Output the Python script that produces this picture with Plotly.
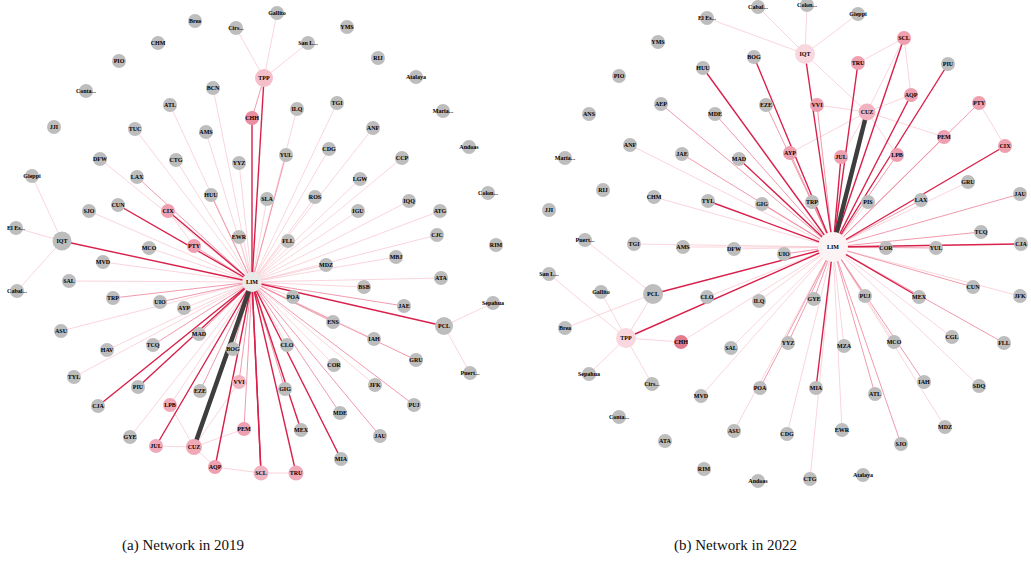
import plotly.graph_objects as go

# ---------------- 2019 network ----------------
NODES_2019 = ["LIM", "Brea", "Cirs...", "CHM", "PIO", "Conta...", "JJI", "TUC", "ATL", "BCN", "AMS",
              "TPP", "CHH", "DFW", "CTG", "YYZ", "Gieppi", "LAX", "HUU", "CUN", "CIX", "SJO", "El Es...",
              "IQT", "EWR", "MCO", "PTY", "Gallito", "YMS", "San L...", "RIJ", "Atalaya", "ILQ", "TGI",
              "Maria...", "ANF", "YUL", "CDG", "CCP", "Andoas", "LGW", "SLA", "ROS", "Colon...", "IQQ",
              "IGU", "ATG", "FLL", "CJC", "RIM", "Cabal...", "MVD", "SAL", "TRP", "UIO", "AYP", "ASU",
              "MAD", "HAV", "TCQ", "BOG", "TYL", "VVI", "PIU", "EZE", "CJA", "LPB", "PEM", "GYE", "JUL",
              "CUZ", "AQP", "SCL", "MBJ", "MDZ", "ATA", "BSB", "POA", "JAE", "Sepahua", "ENS", "PCL",
              "IAH", "CLO", "GRU", "COR", "Puert...", "JFK", "GIG", "PUJ", "MDE", "MEX", "JAU", "MIA", "TRU"]
X_2019 = [252, 195, 236, 158, 119, 86, 54, 135, 170, 213, 206,
          264, 252, 100, 176, 239, 32, 137, 211, 118, 168, 89, 16,
          62, 239, 149, 194, 277, 347, 308, 378, 416, 297, 337,
          443, 373, 286, 329, 402, 469, 360, 267, 315, 488, 409,
          358, 440, 288, 437, 496, 17, 103, 69, 113, 160, 184, 61,
          199, 107, 153, 233, 74, 239, 138, 200, 98, 170, 244, 130, 156,
          194, 215, 261, 396, 326, 441, 364, 293, 404, 493, 333, 444,
          374, 287, 416, 334, 470, 375, 285, 414, 340, 301, 380, 341, 296]
Y_2019 = [282, 21, 28, 43, 61, 91, 127, 129, 105, 88, 132,
          78, 118, 159, 160, 163, 176, 177, 195, 205, 211, 211, 228,
          241, 237, 248, 246, 13, 27, 43, 58, 77, 109, 103,
          111, 128, 155, 149, 158, 147, 179, 199, 197, 193, 201,
          211, 211, 241, 235, 245, 291, 262, 281, 298, 302, 308, 331,
          334, 350, 345, 349, 377, 382, 387, 391, 406, 405, 429, 437, 446,
          447, 467, 473, 257, 265, 278, 287, 297, 306, 303, 322, 326,
          339, 345, 360, 365, 373, 385, 389, 405, 413, 430, 436, 459, 473]

# edges: source, target, weight class (1 light .. 3 strong, 4 heaviest)
EDGE_SRC_2019 = ["LIM"] * 75 + ["TPP", "TPP", "TPP", "TPP", "IQT", "IQT", "IQT", "PCL", "PCL",
                                "CUZ", "CUZ", "CUZ", "CUZ", "CUZ", "AQP", "SCL", "CIX"]
EDGE_DST_2019 = ["IQT", "TPP", "PCL", "CUZ", "AQP", "SCL", "TRU", "PIU", "CJA", "CIX",
                 "CUN", "JUL", "EZE", "BOG", "MAD", "TCQ", "ENS", "GRU", "MEX", "MIA",
                 "JAU", "MDE", "PUJ", "JFK", "COR", "GIG", "CLO", "POA", "BSB", "JAE",
                 "ATA", "MBJ", "MDZ", "CJC", "ATG", "IQQ", "CCP", "IGU", "LGW", "ROS",
                 "FLL", "CDG", "ANF", "TGI", "YUL", "ILQ", "SLA", "CHH", "YYZ", "EWR",
                 "HUU", "AMS", "BCN", "ATL", "CTG", "TUC", "LAX", "DFW", "SJO", "MCO",
                 "PTY", "MVD", "SAL", "TRP", "UIO", "AYP", "ASU", "HAV", "TYL", "GYE",
                 "LPB", "PEM", "VVI", "IAH", "SCL",
                 "Cirs...", "Gallito", "San L...", "CHH", "El Es...", "Gieppi", "Cabal...",
                 "Sepahua", "Puert...", "LPB", "JUL", "AQP", "PEM", "VVI", "SCL", "TRU", "PTY"]
EDGE_W_2019 = [3, 3, 3, 4, 3, 3, 3, 3, 3, 3,
               3, 3, 2, 2, 2, 2, 2, 2, 3, 3,
               2, 2, 2, 1, 1, 2, 1, 1, 1, 2,
               1, 1, 1, 1, 1, 1, 1, 1, 1, 1,
               1, 1, 1, 1, 2, 1, 1, 3, 1, 1,
               2, 1, 1, 1, 1, 1, 2, 1, 1, 1,
               2, 1, 1, 2, 2, 1, 1, 1, 1, 1,
               1, 2, 2, 1, 3,
               1, 1, 1, 2, 1, 1, 1,
               1, 1, 1, 1, 1, 1, 1, 1, 1, 1]

# ---------------- 2022 network ----------------
NODES_2022 = ["LIM", "Cabal...", "El Es...", "YMS", "BOG", "HUU", "PIO", "AEP", "EZE", "ANS", "MDE",
              "ANF", "JAE", "MAD", "Maria...", "RIJ", "CHM", "TYL", "GIG", "JJI", "Puert...", "TGI",
              "AMS", "DFW", "Colon...", "Gieppi", "SCL", "IQT", "TRU", "PIU", "AQP", "VVI", "CUZ",
              "PTY", "PEM", "AYP", "JUL", "LPB", "CIX", "GRU", "JAU", "TRP", "PIS", "LAX", "TCQ",
              "COR", "YUL", "CJA", "San L...", "Gallito", "PCL", "CLO", "ILQ", "Brea", "TPP", "CHH",
              "SAL", "Sepahua", "Cirs...", "MVD", "POA", "Conta...", "ASU", "ATA", "RIM", "Andoas",
              "UIO", "CUN", "JFK", "GYE", "PUJ", "MEX", "CGL", "FLL", "YYZ", "MZA", "MCO", "MIA",
              "ATL", "IAH", "SDQ", "MDZ", "CDG", "EWR", "SJO", "CTG", "Atalaya"]
X_2022 = [833, 758, 707, 658, 754, 703, 619, 661, 766, 589, 715,
          630, 682, 739, 565, 603, 654, 708, 762, 549, 585, 634,
          683, 734, 807, 858, 904, 805, 858, 948, 911, 817, 867,
          979, 944, 790, 841, 897, 1005, 968, 1020, 812, 868, 921, 981,
          886, 936, 1021, 549, 601, 653, 707, 759, 565, 626, 681,
          731, 589, 652, 701, 760, 619, 734, 665, 704, 758,
          784, 973, 1020, 814, 865, 919, 952, 1004, 788, 844, 894, 816,
          875, 924, 979, 945, 787, 842, 901, 810, 863]
Y_2022 = [247, 7, 18, 42, 57, 68, 76, 104, 105, 114, 114,
          145, 154, 159, 158, 190, 197, 201, 204, 210, 240, 244,
          247, 249, 5, 14, 38, 54, 63, 64, 95, 105, 112,
          103, 137, 153, 157, 155, 146, 182, 194, 202, 202, 200, 232,
          248, 248, 244, 274, 292, 294, 297, 301, 328, 338, 342,
          348, 374, 384, 396, 388, 417, 431, 441, 469, 481,
          254, 287, 296, 299, 296, 297, 337, 343, 343, 346, 342, 388,
          394, 382, 386, 427, 434, 430, 444, 479, 475]

EDGE_SRC_2022 = ["LIM"] * 65 + ["IQT", "IQT", "IQT", "IQT", "IQT", "SCL", "SCL", "SCL",
                                "CUZ", "CUZ", "CUZ", "CUZ", "CUZ", "CUZ", "PTY", "PCL", "PCL",
                                "PCL", "TPP", "TPP", "TPP", "TPP", "TPP"]
EDGE_DST_2022 = ["IQT", "SCL", "TRU", "PIU", "AQP", "PTY", "CIX", "PEM", "LPB", "JUL",
                 "CUZ", "VVI", "AYP", "TRP", "PIS", "LAX", "GRU", "JAU", "TCQ", "COR",
                 "YUL", "CJA", "CUN", "JFK", "MEX", "FLL", "CGL", "SDQ", "IAH", "MDZ",
                 "MCO", "PUJ", "SJO", "ATL", "EWR", "MZA", "CTG", "MIA", "GYE", "CDG",
                 "YYZ", "ILQ", "POA", "ASU", "MVD", "SAL", "CHH", "TPP", "PCL", "CLO",
                 "UIO", "DFW", "AMS", "TGI", "CHM", "TYL", "GIG", "ANF", "JAE", "MAD",
                 "AEP", "MDE", "HUU", "BOG", "EZE",
                 "Cabal...", "El Es...", "Colon...", "Gieppi", "CUZ", "TRU", "AQP", "CUZ",
                 "VVI", "AQP", "PEM", "LPB", "AYP", "JUL", "CIX", "Puert...", "Brea",
                 "TPP", "Gallito", "San L...", "Sepahua", "Cirs...", "CHH"]
EDGE_W_2022 = [3, 3, 3, 3, 3, 2, 3, 2, 2, 3,
               4, 2, 2, 2, 1, 2, 1, 2, 2, 1,
               2, 3, 2, 1, 3, 2, 1, 1, 2, 1,
               1, 2, 2, 2, 1, 1, 1, 3, 2, 1,
               2, 1, 2, 1, 1, 1, 1, 3, 3, 1,
               2, 1, 1, 1, 1, 3, 2, 1, 2, 3,
               2, 2, 3, 3, 2,
               1, 1, 1, 1, 1, 1, 1, 1,
               1, 1, 1, 1, 1, 1, 1, 1, 1,
               1, 1, 1, 1, 1, 1]

CAPTIONS = ["(a) Network in 2019", "(b) Network in 2022"]

# ---------------- styling ----------------
EDGE_STYLE = {1: ("#f8c3cd", 0.7), 2: ("#ef8fa4", 0.9), 3: ("#d8204a", 1.4), 4: ("#3d3d3d", 4.5)}

NODE_STYLE_2019 = {
    "LIM": ("#e9e9e9", 20), "IQT": ("#bdbdbd", 19), "PCL": ("#bdbdbd", 18), "TPP": ("#f5bfca", 18),
    "CUZ": ("#f0a9b8", 16), "CHH": ("#ea8ea2", 14), "CIX": ("#ee9fb0", 14), "PTY": ("#ee9fb0", 14),
    "LPB": ("#f0a9b8", 14), "JUL": ("#f0a9b8", 14), "AQP": ("#ee9fb0", 14), "PEM": ("#ee9fb0", 14),
    "VVI": ("#f2b3c0", 14), "SCL": ("#f2b3c0", 15), "TRU": ("#f0a9b8", 15),
}
NODE_STYLE_2022 = {
    "LIM": ("#fdf2f4", 30), "IQT": ("#f9d7de", 20), "PCL": ("#bdbdbd", 20), "TPP": ("#f9d7de", 20),
    "CUZ": ("#f2b3c0", 17), "CHH": ("#e47a8e", 14), "CIX": ("#ee9fb0", 14), "PTY": ("#ee9fb0", 14),
    "LPB": ("#ee9fb0", 14), "JUL": ("#ee9fb0", 14), "AQP": ("#ee9fb0", 14), "PEM": ("#ee9fb0", 14),
    "VVI": ("#ee9fb0", 14), "SCL": ("#ee9fb0", 14), "TRU": ("#ee9fb0", 14), "AYP": ("#ee9fb0", 14),
}
DEFAULT_NODE = ("#bdbdbd", 14)

fig = go.Figure()


def add_network(nodes, xs, ys, src, dst, wts, style):
    pos = {n: (x, y) for n, x, y in zip(nodes, xs, ys)}
    for w in [1, 2, 3, 4]:
        ex, ey = [], []
        for s, d, ww in zip(src, dst, wts):
            if ww != w:
                continue
            ex += [pos[s][0], pos[d][0], None]
            ey += [pos[s][1], pos[d][1], None]
        if ex:
            col, wid = EDGE_STYLE[w]
            fig.add_trace(go.Scatter(x=ex, y=ey, mode="lines", line=dict(color=col, width=wid),
                                     hoverinfo="skip", showlegend=False))
    cols = [style.get(n, DEFAULT_NODE)[0] for n in nodes]
    sizes = [style.get(n, DEFAULT_NODE)[1] for n in nodes]
    fig.add_trace(go.Scatter(
        x=xs, y=ys, mode="markers+text",
        marker=dict(color=cols, size=sizes, line=dict(width=0), opacity=1),
        text=["<b>%s</b>" % n for n in nodes], textposition="middle center",
        textfont=dict(family="Liberation Serif", size=6, color="#000000"),
        hovertext=nodes, hoverinfo="text", showlegend=False))


add_network(NODES_2019, X_2019, Y_2019, EDGE_SRC_2019, EDGE_DST_2019, EDGE_W_2019, NODE_STYLE_2019)
add_network(NODES_2022, X_2022, Y_2022, EDGE_SRC_2022, EDGE_DST_2022, EDGE_W_2022, NODE_STYLE_2022)

for cap, cx in zip(CAPTIONS, [183, 735]):
    fig.add_annotation(x=cx, y=545, xref="x", yref="y", text=cap, showarrow=False,
                       font=dict(family="Liberation Serif", size=15, color="#111111"))

fig.update_layout(
    width=1031, height=561, margin=dict(l=0, r=0, t=0, b=0),
    paper_bgcolor="white", plot_bgcolor="white",
    xaxis=dict(range=[0, 1031], visible=False, fixedrange=True),
    yaxis=dict(range=[561, 0], visible=False, fixedrange=True),
)

fig.write_html("out.html", config={"displayModeBar": False},
               post_script="document.body.style.margin='0';document.body.style.overflow='hidden';")
